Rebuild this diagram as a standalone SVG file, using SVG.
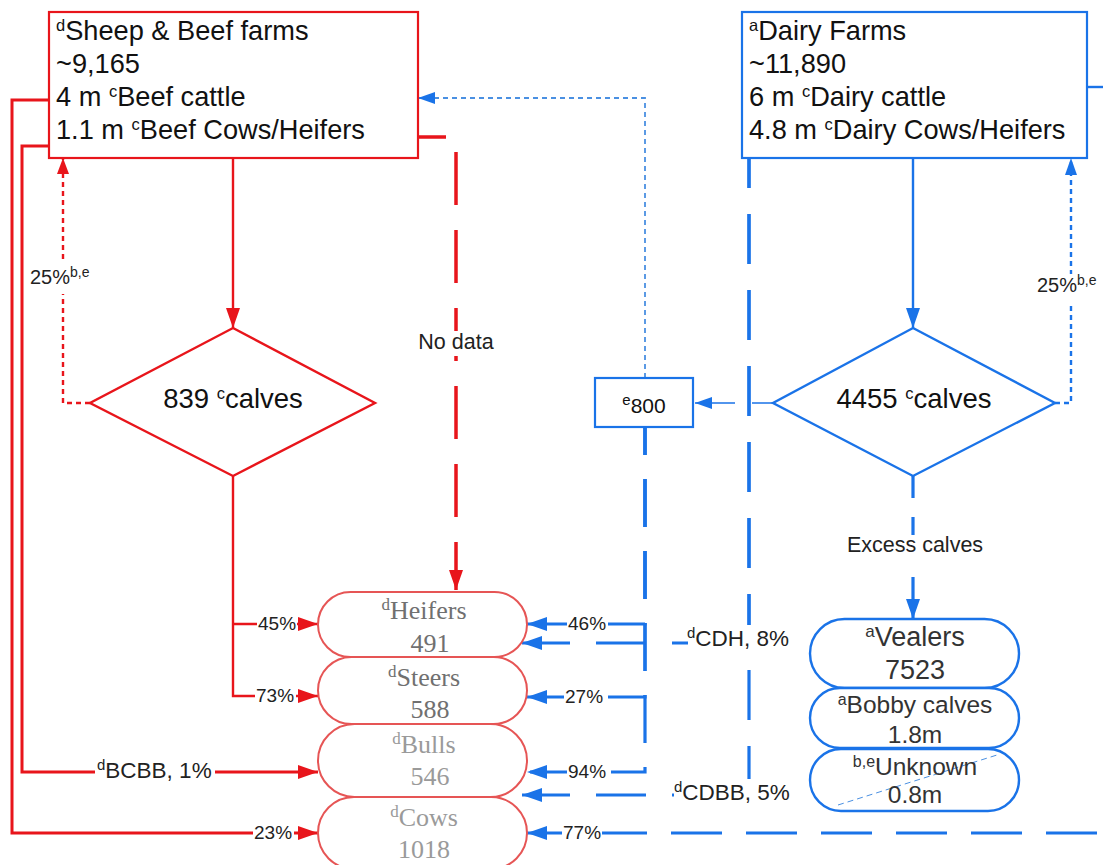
<svg xmlns="http://www.w3.org/2000/svg" width="1103" height="865" viewBox="0 0 1103 865">
<style>
text{font-family:"Liberation Sans",Arial,sans-serif}
.bt{font-size:27.2px;fill:#111}
.dt{font-size:27.5px;fill:#111}
.sup{font-size:16.5px}
.lab{font-size:19px;fill:#222}
.lab25{font-size:20px;fill:#222}
.lab2{font-size:22.5px;fill:#222}
.lab3{font-size:21.5px;fill:#222}
.ls{font-size:14px}
.ls2{font-size:15px}
.ser{font-family:"Liberation Serif","Times New Roman",serif;font-size:26px}
.g1{fill:#707070}
.g2{fill:#9a9a9a}
.bp{fill:#333}
.rbox{fill:#fff;stroke:#e8151b;stroke-width:2.2}
.bbox{fill:#fff;stroke:#1a73e8;stroke-width:2.2}
.rpill{fill:#fff;stroke:#e65555;stroke-width:2}
.bpill{fill:#fff;stroke:#1a73e8;stroke-width:2.4}
.rl{fill:none;stroke:#e8151b;stroke-width:2.4}
.rl3{fill:none;stroke:#e8151b;stroke-width:3}
.rdot{fill:none;stroke:#e8151b;stroke-width:2.4;stroke-dasharray:5 4}
.rdash{fill:none;stroke:#e8151b;stroke-width:3.5;stroke-dasharray:53 25;stroke-dashoffset:25}
.bl{fill:none;stroke:#1a73e8;stroke-width:2.4}
.bthin{fill:none;stroke:#1a73e8;stroke-width:1.6}
.bdot{fill:none;stroke:#1a73e8;stroke-width:2.4;stroke-dasharray:5 4}
.bdotl{fill:none;stroke:#4a90e2;stroke-width:1.8;stroke-dasharray:5 4}
.bd1{fill:none;stroke:#1a73e8;stroke-width:3.2;stroke-dasharray:48 24;stroke-dashoffset:20}
.bd2{fill:none;stroke:#1a73e8;stroke-width:3.2;stroke-dasharray:50 26;stroke-dashoffset:20}
.bd3{fill:none;stroke:#1a73e8;stroke-width:3.2;stroke-dasharray:51 24;stroke-dashoffset:69}
.bex{fill:none;stroke:#1a73e8;stroke-width:3.2;stroke-dasharray:22 19 18 42 60}
.wbg{fill:#fff}
</style>
<defs>
<marker id="aR" markerUnits="userSpaceOnUse" markerWidth="20" markerHeight="14" refX="20" refY="7" orient="auto" viewBox="0 0 20 14"><path d="M0,0 L20,7 L0,14 z" fill="#e8151b"/></marker>
<marker id="aRs" markerUnits="userSpaceOnUse" markerWidth="16" markerHeight="12" refX="16" refY="6" orient="auto" viewBox="0 0 16 12"><path d="M0,0 L16,6 L0,12 z" fill="#e8151b"/></marker>
<marker id="aB" markerUnits="userSpaceOnUse" markerWidth="20" markerHeight="14" refX="20" refY="7" orient="auto" viewBox="0 0 20 14"><path d="M0,0 L20,7 L0,14 z" fill="#1a73e8"/></marker>
<marker id="aBs" markerUnits="userSpaceOnUse" markerWidth="17" markerHeight="12" refX="17" refY="6" orient="auto" viewBox="0 0 17 12"><path d="M0,0 L17,6 L0,12 z" fill="#1a73e8"/></marker>
</defs>
<rect width="1103" height="865" fill="#fff"/>

<g id="connectors">
<!-- red -->
<path class="rl" d="M233,158 V328" marker-end="url(#aR)"/>
<path class="rl" d="M233,476 V696 H318" marker-end="url(#aR)"/>
<path class="rl" d="M233,624 H318" marker-end="url(#aR)"/>
<path class="rl3" d="M49,146 H22 V772 H318" marker-end="url(#aR)"/>
<path class="rl3" d="M49,100 H12 V833 H318" marker-end="url(#aR)"/>
<path class="rdot" d="M90,403 H63 V158" marker-end="url(#aRs)"/>
<path class="rdash" d="M418,137 H456 V590" marker-end="url(#aR)"/>
<!-- blue -->
<path class="bl" d="M913,158 V328" marker-end="url(#aB)"/>
<path class="bex" d="M913,476 V619" marker-end="url(#aB)"/>
<path class="bdot" d="M1055,403 H1071 V158" marker-end="url(#aBs)"/>
<path class="bthin" d="M773,403 H752 M735,403 H695" marker-end="url(#aBs)"/>
<path class="bdotl" d="M645,378 V98 H418" marker-end="url(#aBs)"/>
<path class="bd1" d="M645,427 V624 H527" marker-end="url(#aB)"/>
<path class="bd1" d="M645,427 V697 H527" marker-end="url(#aB)"/>
<path class="bd1" d="M645,427 V772 H527" marker-end="url(#aB)"/>
<path class="bd2" d="M749,158 V643 H522" marker-end="url(#aB)"/>
<path class="bd2" d="M749,158 V795 H522" marker-end="url(#aB)"/>
<path class="bd3" d="M1103,833 H527" marker-end="url(#aB)"/>
<path class="bl" d="M1087,87 H1103" stroke-width="3"/>

<!-- label backgrounds -->
<rect class="wbg" x="416" y="331" width="80" height="25"/>
<rect class="wbg" x="842" y="535" width="146" height="25"/>
<rect class="wbg" x="28" y="262" width="70" height="32"/>
<rect class="wbg" x="1035" y="274" width="68" height="30"/>
<rect class="wbg" x="257" y="614" width="40" height="20"/>
<rect class="wbg" x="255" y="686" width="41" height="20"/>
<rect class="wbg" x="95" y="757" width="120" height="26"/>
<rect class="wbg" x="253" y="823" width="41" height="20"/>
<rect class="wbg" x="567" y="614" width="41" height="20"/>
<rect class="wbg" x="564" y="686" width="44" height="20"/>
<rect class="wbg" x="567" y="762" width="44" height="20"/>
<rect class="wbg" x="562" y="823" width="40" height="20"/>
<rect class="wbg" x="688" y="625" width="106" height="27"/>
<rect class="wbg" x="674" y="779" width="120" height="27"/>

<!-- labels -->
<text class="lab3" x="456" y="349" text-anchor="middle">No data</text>
<text class="lab3" x="915" y="552" text-anchor="middle">Excess calves</text>
<text class="lab25" x="30" y="284">25%<tspan class="ls" dy="-7">b,e</tspan></text>
<text class="lab25" x="1037" y="292">25%<tspan class="ls" dy="-7">b,e</tspan></text>
<text class="lab" x="258" y="630">45%</text>
<text class="lab" x="256" y="702">73%</text>
<text class="lab2" x="97" y="778"><tspan class="ls2" dy="-8">d</tspan><tspan dy="8">BCBB, 1%</tspan></text>
<text class="lab" x="254" y="839">23%</text>
<text class="lab" x="568" y="630">46%</text>
<text class="lab" x="565" y="703">27%</text>
<text class="lab" x="568" y="778">94%</text>
<text class="lab" x="563" y="839">77%</text>
<text class="lab2" x="687" y="646"><tspan class="ls2" dy="-8">d</tspan><tspan dy="8">CDH, 8%</tspan></text>
<text class="lab2" x="674" y="800"><tspan class="ls2" dy="-8">d</tspan><tspan dy="8">CDBB, 5%</tspan></text>
</g>

<g id="sheep-beef-farms">
<rect class="rbox" x="49" y="12" width="369" height="146"/>
<text class="bt" x="56" y="40"><tspan class="sup" dy="-9">d</tspan><tspan dy="9">Sheep &amp; Beef farms</tspan></text>
<text class="bt" x="56" y="73">~9,165</text>
<text class="bt" x="56" y="106">4 m <tspan class="sup" dy="-9">c</tspan><tspan dy="9">Beef cattle</tspan></text>
<text class="bt" x="56" y="139">1.1 m <tspan class="sup" dy="-9">c</tspan><tspan dy="9">Beef Cows/Heifers</tspan></text>
</g>

<g id="dairy-farms">
<rect class="bbox" x="742" y="12" width="345" height="146"/>
<text class="bt" x="749" y="40"><tspan class="sup" dy="-9">a</tspan><tspan dy="9">Dairy Farms</tspan></text>
<text class="bt" x="749" y="73">~11,890</text>
<text class="bt" x="749" y="106">6 m <tspan class="sup" dy="-9">c</tspan><tspan dy="9">Dairy cattle</tspan></text>
<text class="bt" x="749" y="139">4.8 m <tspan class="sup" dy="-9">c</tspan><tspan dy="9">Dairy Cows/Heifers</tspan></text>
</g>

<g id="beef-calves">
<polygon points="233,328 375,403 233,476 90,403" fill="#fff" stroke="#e8151b" stroke-width="2.4"/>
<text class="dt" x="233" y="408" text-anchor="middle">839 <tspan class="sup" dy="-9">c</tspan><tspan dy="9">calves</tspan></text>
</g>

<g id="dairy-calves">
<polygon points="913,328 1055,403 913,476 773,403" fill="#fff" stroke="#1a73e8" stroke-width="2.4"/>
<text class="dt" x="914" y="408" text-anchor="middle">4455 <tspan class="sup" dy="-9">c</tspan><tspan dy="9">calves</tspan></text>
</g>

<g id="box-800">
<rect class="bbox" x="595" y="378" width="98" height="49"/>
<text x="644" y="413" text-anchor="middle" font-size="21" fill="#111"><tspan font-size="15" dy="-8">e</tspan><tspan dy="8">800</tspan></text>
</g>

<g id="heifers">
<rect class="rpill" x="318" y="592" width="209" height="65" rx="32.5"/>
<text class="ser g1" x="424" y="619" text-anchor="middle"><tspan font-size="17" dy="-9">d</tspan><tspan dy="9">Heifers</tspan></text>
<text class="ser g1" x="430" y="652" text-anchor="middle">491</text>
</g>
<g id="steers">
<rect class="rpill" x="318" y="657" width="209" height="67" rx="33.5"/>
<text class="ser g1" x="424" y="686" text-anchor="middle"><tspan font-size="17" dy="-9">d</tspan><tspan dy="9">Steers</tspan></text>
<text class="ser g1" x="430" y="718" text-anchor="middle">588</text>
</g>
<g id="bulls">
<rect class="rpill" x="318" y="724" width="209" height="73" rx="36.5"/>
<text class="ser g2" x="424" y="753" text-anchor="middle"><tspan font-size="17" dy="-9">d</tspan><tspan dy="9">Bulls</tspan></text>
<text class="ser g2" x="430" y="785" text-anchor="middle">546</text>
</g>
<g id="cows">
<rect class="rpill" x="318" y="797" width="209" height="72" rx="36"/>
<text class="ser g2" x="424" y="826" text-anchor="middle"><tspan font-size="17" dy="-9">d</tspan><tspan dy="9">Cows</tspan></text>
<text class="ser g2" x="424" y="858" text-anchor="middle">1018</text>
</g>

<g id="vealers">
<rect class="bpill" x="810" y="619" width="209" height="69" rx="34.5"/>
<text class="bp" x="915" y="646" font-size="27" text-anchor="middle"><tspan font-size="17" dy="-9">a</tspan><tspan dy="9">Vealers</tspan></text>
<text class="bp" x="915" y="679" font-size="27" text-anchor="middle">7523</text>
</g>
<g id="bobby-calves">
<rect class="bpill" x="810" y="688" width="209" height="60" rx="30"/>
<text class="bp" x="915" y="713" font-size="24.5" text-anchor="middle"><tspan font-size="16" dy="-8">a</tspan><tspan dy="8">Bobby calves</tspan></text>
<text class="bp" x="915" y="743" font-size="24.5" text-anchor="middle">1.8m</text>
</g>
<g id="unknown">
<rect class="bpill" x="810" y="749" width="209" height="62" rx="31"/>
<path d="M838,805 L997,755" fill="none" stroke="#4a90e2" stroke-width="1" stroke-dasharray="6 4"/>
<text class="bp" x="915" y="775" font-size="24.5" text-anchor="middle"><tspan font-size="16" dy="-8">b,e</tspan><tspan dy="8">Unknown</tspan></text>
<text class="bp" x="915" y="803" font-size="24.5" text-anchor="middle">0.8m</text>
</g>
</svg>
